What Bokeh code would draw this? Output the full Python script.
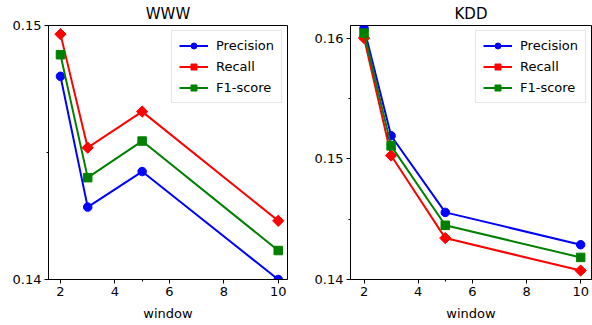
from bokeh.plotting import figure
from bokeh.layouts import row
from bokeh.models import Range1d, FixedTicker
from bokeh.embed import file_html
from bokeh.resources import INLINE
import math

windows = [2, 3, 5, 10]

www_precision = [0.1480, 0.14285, 0.14425, 0.1400]
www_recall = [0.14966, 0.14519, 0.14661, 0.14231]
www_f1 = [0.14885, 0.14401, 0.14545, 0.14114]

kdd_precision = [0.16082, 0.15191, 0.14556, 0.14288]
kdd_recall = [0.16000, 0.15027, 0.14343, 0.14074]
kdd_f1 = [0.16041, 0.15107, 0.14449, 0.14183]

x_ticks = [2, 4, 6, 8, 10]
x_minor = [5]
www_yticks = [0.14, 0.15]
www_yminor = [0.145]
kdd_yticks = [0.14, 0.15, 0.16]
kdd_yminor = [0.145, 0.155]
x_label = "window"

FONT = "DejaVu Sans"
BLUE, RED, GREEN = "#0000ff", "#ff0000", "#008000"


def make_panel(title, prec, rec, f1, xr, yr, yticks, yminor, width, bl, br):
    p = figure(width=width, height=325, output_backend="svg", toolbar_location=None,
               x_range=Range1d(*xr), y_range=Range1d(*yr),
               min_border_left=bl, min_border_right=br, min_border_top=24,
               min_border_bottom=46)
    p.title.text = title
    p.title.align = "center"
    p.title.text_font = FONT
    p.title.text_font_size = "15px"
    p.title.text_font_style = "normal"
    p.title.text_color = "black"
    p.title.standoff = 5
    p.title.text_line_height = 1.0
    p.xgrid.visible = False
    p.ygrid.visible = False
    p.outline_line_color = "black"
    p.outline_line_width = 1
    p.outline_line_alpha = 1
    p.background_fill_color = "white"
    p.border_fill_color = "white"

    p.xaxis.ticker = FixedTicker(ticks=x_ticks, minor_ticks=x_minor)
    p.yaxis.ticker = FixedTicker(ticks=yticks, minor_ticks=yminor)
    for ax in (p.xaxis[0], p.yaxis[0]):
        ax.major_label_text_font = FONT
        ax.major_label_text_font_size = "13px"
        ax.major_label_text_color = "black"
        ax.major_tick_out = 4
        ax.major_tick_in = 0
        ax.minor_tick_out = 2
        ax.minor_tick_in = 0
        ax.major_label_standoff = 3
        ax.axis_line_color = "black"
        ax.major_tick_line_color = "black"
        ax.minor_tick_line_color = "black"
    p.xaxis.axis_label = x_label
    p.xaxis.axis_label_text_font = FONT
    p.xaxis.axis_label_text_font_size = "13px"
    p.xaxis.axis_label_text_font_style = "normal"
    p.xaxis.axis_label_text_color = "black"
    p.xaxis.axis_label_standoff = 7

    series = [("Precision", prec, BLUE, "circle", 0.0, 8.5),
              ("Recall", rec, RED, "square", math.pi / 4, 8.0),
              ("F1-score", f1, GREEN, "square", 0.0, 8.5)]
    for name, ys, col, mk, ang, sz in series:
        p.line(windows, ys, line_color=col, line_width=2, legend_label=name)
        p.scatter(windows, ys, marker=mk, angle=ang, size=sz, fill_color=col,
                  line_color=col, legend_label=name)

    lg = p.legend[0]
    lg.location = "top_right"
    lg.margin = 5
    lg.padding = 7
    lg.spacing = 6
    lg.glyph_width = 29
    lg.glyph_height = 15
    lg.label_height = 15
    lg.label_standoff = 8
    lg.label_text_font = FONT
    lg.label_text_font_size = "13px"
    lg.label_text_color = "black"
    lg.border_line_color = "#cccccc"
    lg.border_line_width = 1
    lg.background_fill_alpha = 0.8
    return p


left = make_panel("WWW", www_precision, www_recall, www_f1, (1.56, 10.34), (0.14, 0.15),
                  www_yticks, www_yminor, 300, 48, 13)
right = make_panel("KDD", kdd_precision, kdd_recall, kdd_f1, (1.5, 10.4), (0.14, 0.16104),
                   kdd_yticks, kdd_yminor, 292, 50, 1)

p = row(left, right)
open("out.html", "w").write(file_html(p, INLINE))
